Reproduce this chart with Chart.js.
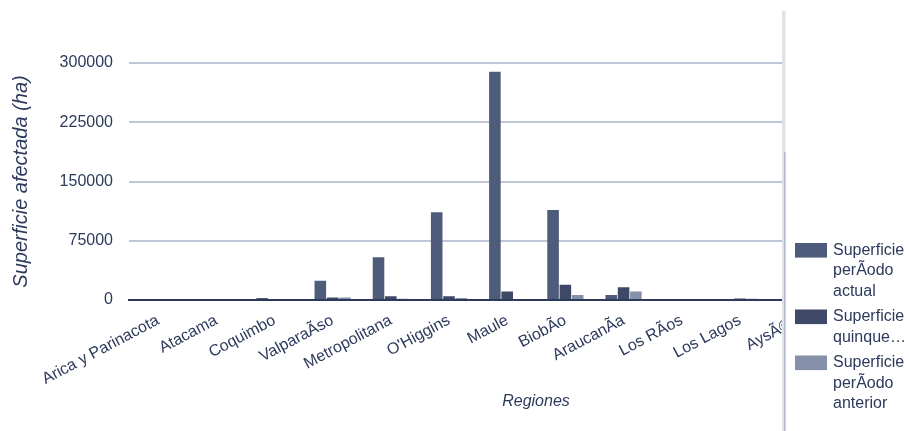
<!DOCTYPE html>
<html>
<head>
<meta charset="utf-8">
<script src="https://cdn.jsdelivr.net/npm/chart.js@4.4.1/dist/chart.umd.min.js"></script>
<style>
  html, body { margin: 0; padding: 0; background: #fff; }
  #wrap { position: relative; width: 909px; height: 431px; }
</style>
</head>
<body>
<div id="wrap"><canvas id="regionesChart" width="909" height="431"></canvas></div>
<script>
// Superficie afectada por región (ha)
const regiones = [
  "Arica y Parinacota", "Atacama", "Coquimbo", "ValparaÃso", "Metropolitana",
  "O'Higgins", "Maule", "BiobÃo", "AraucanÃa", "Los RÃos", "Los Lagos",
  "AysÃ©n", "Magallanes"
];
const superficieActual     = [0, 0, 2500, 24500, 54000, 111000, 289000, 114000, 6300, 0, 0, 0, 0];
const superficieQuinquenio = [0, 0, 0, 3200, 4600, 4600, 10900, 19400, 16000, 0, 1800, 0, 0];
const superficieAnterior   = [0, 0, 0, 3200, 1600, 2500, 1300, 6300, 10900, 0, 1500, 0, 0];
const yTicks = [0, 75000, 150000, 225000, 300000];

const nombresSeries = ["Superficie perÃodo actual", "Superficie quinquenio", "Superficie perÃodo anterior"];
const leyenda = [
  ["Superficie", "perÃodo", "actual"],
  ["Superficie", "quinque…"],
  ["Superficie", "perÃodo", "anterior"]
];
const colores = ["#4e5b7a", "#3d4967", "#8590aa"];

const fuente = '"Liberation Sans", Arial, sans-serif';
const tinta = "#2d3a5c";

// tapa el gráfico a la derecha y dibuja la leyenda
const panelDerecho = {
  id: "panelDerecho",
  afterDraw(chart) {
    const ctx = chart.ctx;
    const corte = 782;
    ctx.save();
    ctx.fillStyle = "#fff";
    ctx.fillRect(corte, 0, chart.width - corte, chart.height);

    ctx.fillStyle = "#dfe1eb";
    ctx.fillRect(corte, 11, 3.5, chart.height - 11);
    ctx.fillStyle = "#b3b9cc";
    ctx.fillRect(corte + 2, 152, 1.5, chart.height - 152);

    ctx.font = "16px " + fuente;
    ctx.textBaseline = "middle";
    ctx.textAlign = "left";
    let y = 250.5;
    chart.data.datasets.forEach((ds, i) => {
      ctx.fillStyle = ds.backgroundColor;
      ctx.fillRect(795, y - 7.5, 32, 14.6);
      ctx.fillStyle = tinta;
      leyenda[i].forEach((linea, j) => ctx.fillText(linea, 833, y + j * 20.5));
      y += leyenda[i].length * 20.5 + 5;
    });

    ctx.font = "italic 16px " + fuente;
    ctx.textAlign = "center";
    ctx.fillStyle = tinta;
    ctx.fillText("Regiones", 536, 402);
    ctx.restore();
  }
};

const ctx = document.getElementById("regionesChart").getContext("2d");
new Chart(ctx, {
  type: "bar",
  data: {
    labels: regiones,
    datasets: [
      { label: nombresSeries[0], data: superficieActual, backgroundColor: colores[0] },
      { label: nombresSeries[1], data: superficieQuinquenio, backgroundColor: colores[1] },
      { label: nombresSeries[2], data: superficieAnterior, backgroundColor: colores[2] }
    ]
  },
  options: {
    responsive: false,
    animation: false,
    layout: { padding: { top: 63, right: 23.6, bottom: 0, left: 0 } },
    datasets: {
      bar: { categoryPercentage: 0.635, barPercentage: 0.94 }
    },
    plugins: {
      legend: { display: false },
      tooltip: { enabled: false }
    },
    scales: {
      x: {
        grid: { display: false },
        border: { display: true, color: tinta, width: 2 },
        ticks: {
          autoSkip: false,
          minRotation: 28,
          maxRotation: 28,
          padding: 3,
          color: tinta,
          font: { family: fuente, size: 16 }
        },
        afterFit: (s) => { s.height = 131; }
      },
      y: {
        min: 0,
        max: 300000,
        border: { display: false },
        grid: {
          drawTicks: false,
          lineWidth: 2,
          color: (c) => (c.tick && c.tick.value === 0 ? tinta : "#bfc6d8")
        },
        ticks: {
          padding: 16,
          color: tinta,
          font: { family: fuente, size: 16 },
          callback: (v) => String(v)
        },
        afterBuildTicks: (s) => { s.ticks = yTicks.map((v) => ({ value: v })); },
        afterFit: (s) => { s.width = 129; },
        title: {
          display: true,
          text: "Superficie afectada (ha)",
          color: tinta,
          padding: { top: 9, bottom: 0 },
          font: { family: fuente, size: 20, style: "italic", lineHeight: 1.2 }
        }
      }
    }
  },
  plugins: [panelDerecho]
});
</script>
</body>
</html>
